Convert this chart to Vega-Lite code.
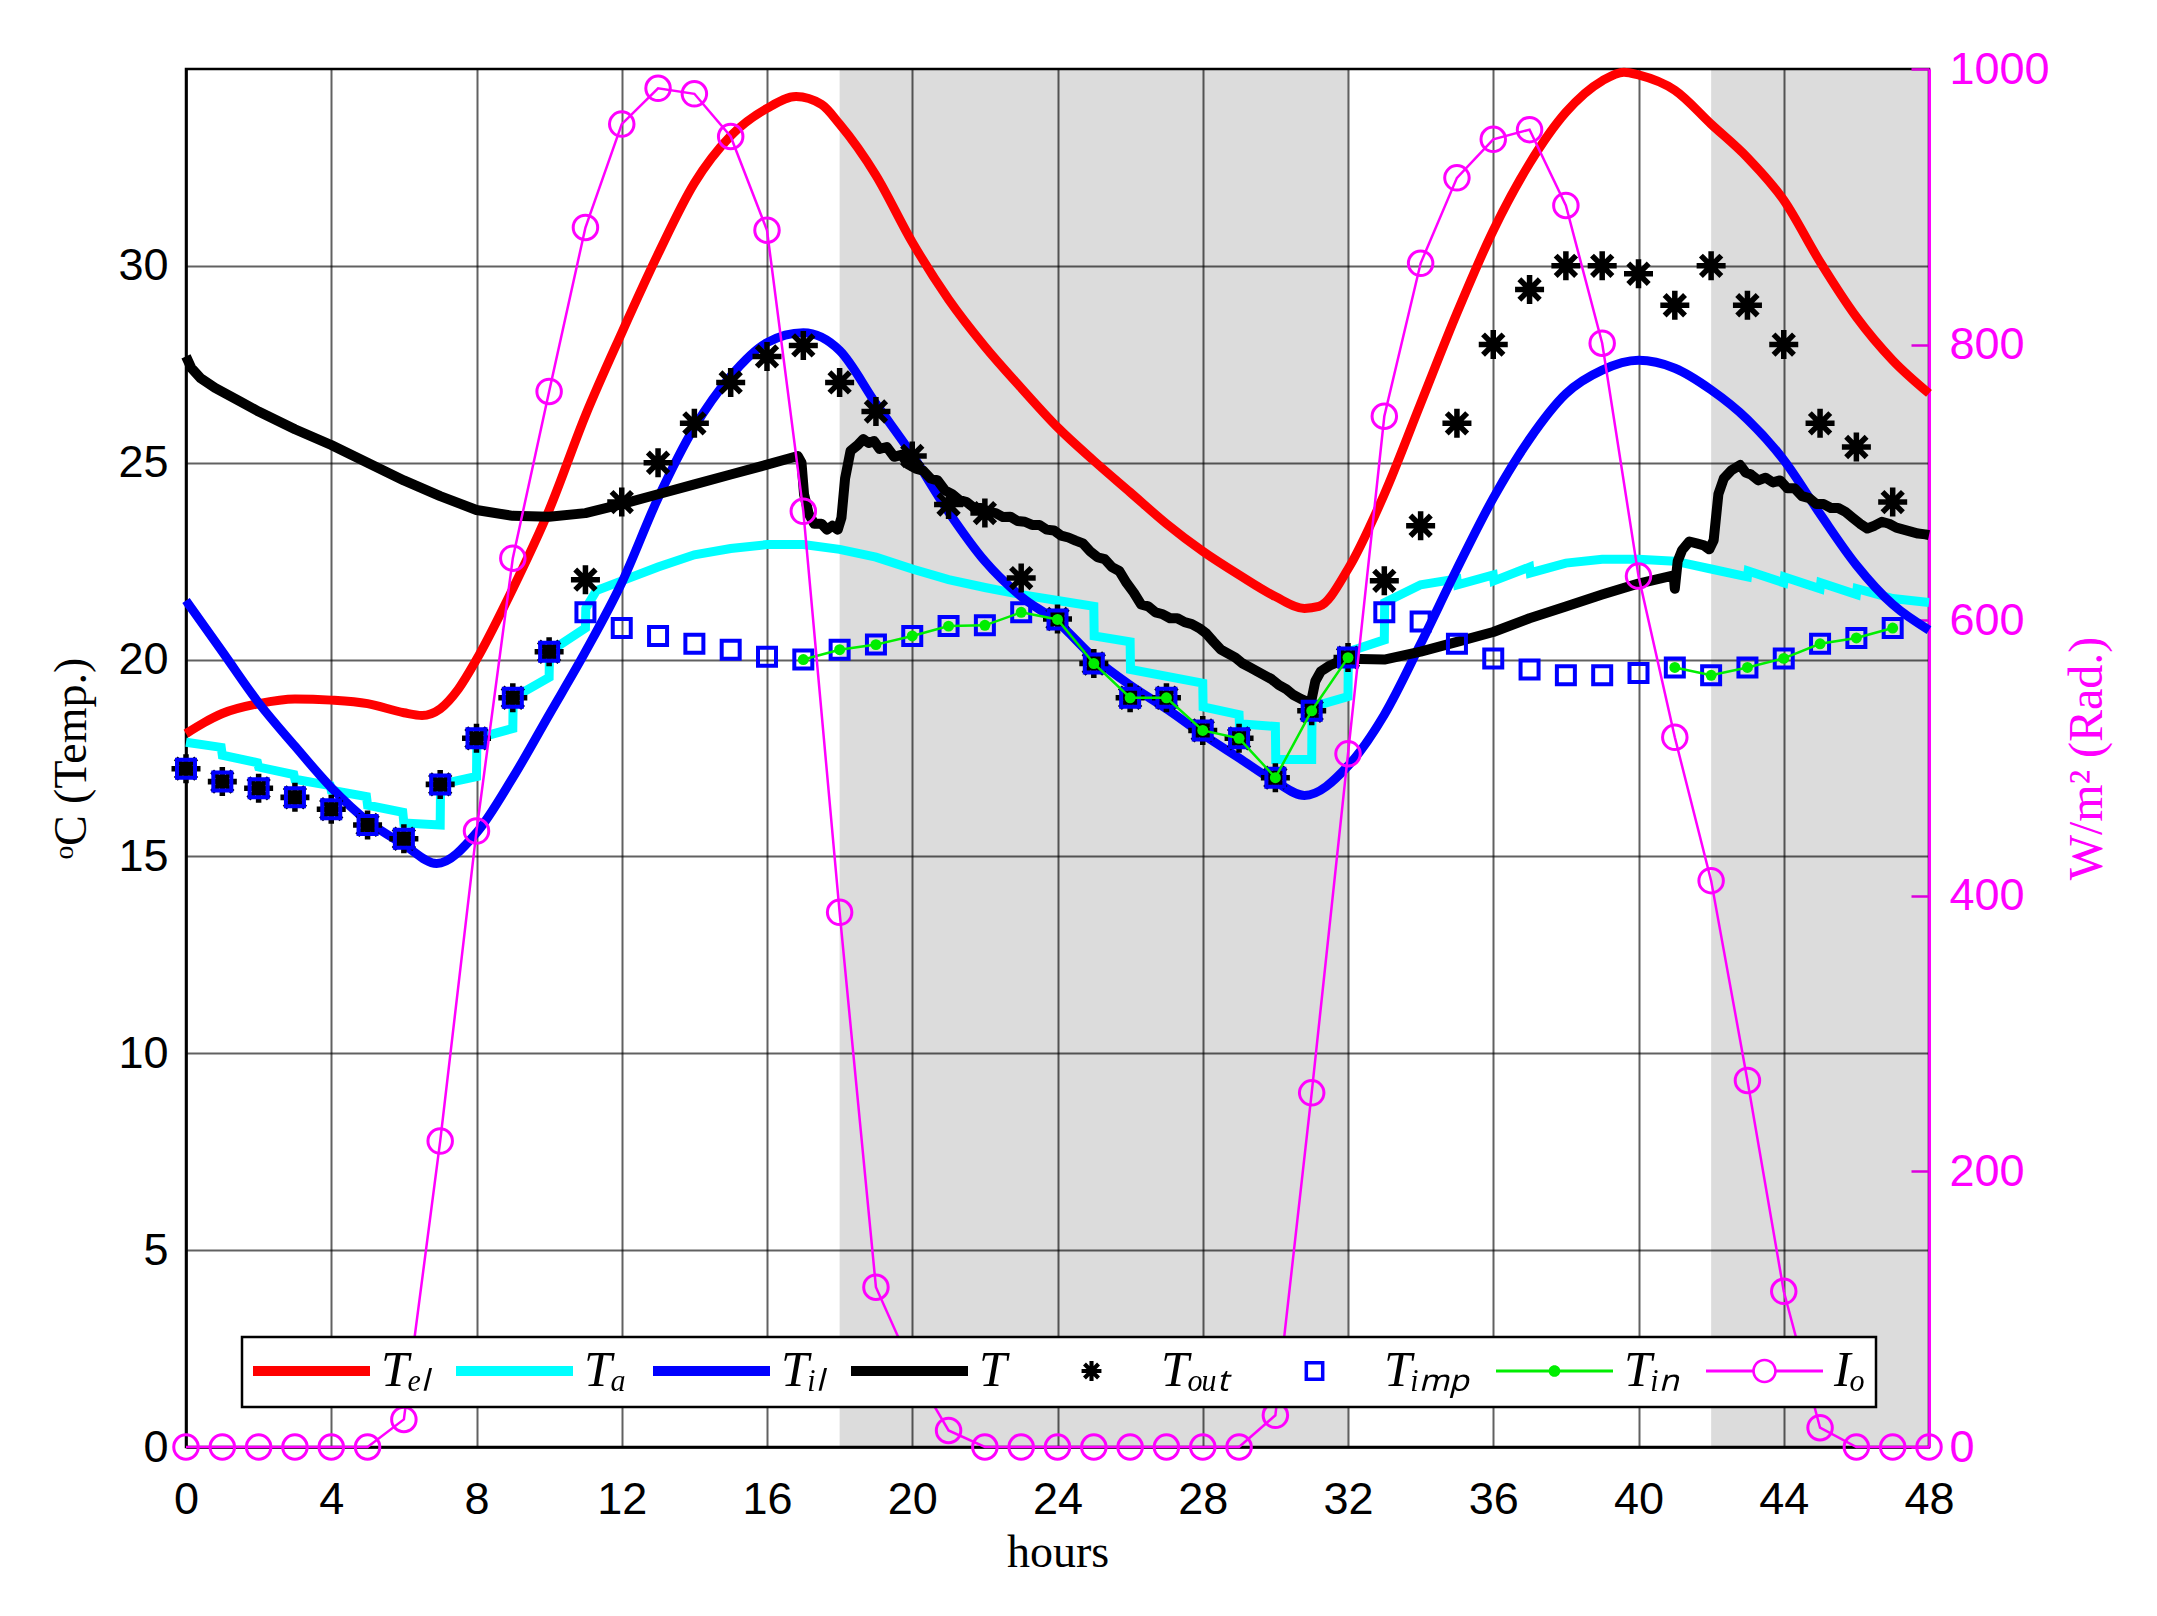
{
  "$schema": "https://vega.github.io/schema/vega-lite/v6.json",
  "width": 1743,
  "height": 1378,
  "autosize": {"type": "none"},
  "padding": {"left": 186, "top": 69, "right": 228, "bottom": 169},
  "background": "white",
  "datasets": {
    "shade": [{"h": 18, "h2": 32}, {"h": 42, "h2": 48}],
    "el": [
      {"h": 0, "v": 18.12}, {"h": 0.5, "v": 18.4}, {"h": 1, "v": 18.63}, {"h": 2, "v": 18.88}, {"h": 3, "v": 19.0},
      {"h": 4, "v": 18.97}, {"h": 5, "v": 18.88}, {"h": 6, "v": 18.65}, {"h": 6.5, "v": 18.58}, {"h": 7, "v": 18.75},
      {"h": 7.5, "v": 19.25}, {"h": 8, "v": 20.0}, {"h": 9, "v": 21.8}, {"h": 10, "v": 23.8}, {"h": 11, "v": 26.2},
      {"h": 12, "v": 28.3}, {"h": 13, "v": 30.3}, {"h": 14, "v": 32.1}, {"h": 15, "v": 33.3}, {"h": 16, "v": 34.0},
      {"h": 16.8, "v": 34.3}, {"h": 17.5, "v": 34.1}, {"h": 18, "v": 33.6}, {"h": 19, "v": 32.3}, {"h": 20, "v": 30.6},
      {"h": 21, "v": 29.15}, {"h": 22, "v": 27.95}, {"h": 23, "v": 26.9}, {"h": 24, "v": 25.9}, {"h": 25, "v": 25.05},
      {"h": 26, "v": 24.25}, {"h": 27, "v": 23.45}, {"h": 28, "v": 22.75}, {"h": 29, "v": 22.15}, {"h": 30, "v": 21.6},
      {"h": 30.8, "v": 21.3}, {"h": 31.2, "v": 21.35}, {"h": 32, "v": 22.3}, {"h": 33, "v": 24.2}, {"h": 34, "v": 26.5},
      {"h": 35, "v": 28.8}, {"h": 36, "v": 30.9}, {"h": 37, "v": 32.6}, {"h": 38, "v": 33.9}, {"h": 39, "v": 34.7},
      {"h": 39.6, "v": 34.92}, {"h": 40, "v": 34.85}, {"h": 41, "v": 34.46}, {"h": 42, "v": 33.6}, {"h": 43, "v": 32.75},
      {"h": 44, "v": 31.67}, {"h": 45, "v": 30.1}, {"h": 46, "v": 28.7}, {"h": 47, "v": 27.6}, {"h": 48, "v": 26.76}
    ],
    "ta": [
      {"h": 0, "v": 17.9}, {"h": 0.97, "v": 17.77}, {"h": 1, "v": 17.57}, {"h": 1.97, "v": 17.38}, {"h": 2, "v": 17.27},
      {"h": 2.97, "v": 17.08}, {"h": 3, "v": 16.96}, {"h": 3.97, "v": 16.8}, {"h": 4, "v": 16.68}, {"h": 4.97, "v": 16.52},
      {"h": 5, "v": 16.3}, {"h": 5.97, "v": 16.12}, {"h": 6, "v": 15.85}, {"h": 7, "v": 15.8}, {"h": 7.01, "v": 16.83},
      {"h": 8, "v": 17.03}, {"h": 8.01, "v": 18.0}, {"h": 9, "v": 18.25}, {"h": 9.01, "v": 19.03}, {"h": 10, "v": 19.55},
      {"h": 10.01, "v": 20.2}, {"h": 11, "v": 20.8}, {"h": 11.01, "v": 21.3}, {"h": 11.3, "v": 21.75}, {"h": 12, "v": 22.0},
      {"h": 13, "v": 22.35}, {"h": 14, "v": 22.66}, {"h": 15, "v": 22.82}, {"h": 16, "v": 22.92}, {"h": 17, "v": 22.92},
      {"h": 18, "v": 22.8}, {"h": 19, "v": 22.6}, {"h": 20, "v": 22.3}, {"h": 21, "v": 22.03}, {"h": 22, "v": 21.83},
      {"h": 23, "v": 21.65}, {"h": 24, "v": 21.5}, {"h": 25, "v": 21.35}, {"h": 25.01, "v": 20.6}, {"h": 26, "v": 20.45},
      {"h": 26.01, "v": 19.75}, {"h": 28, "v": 19.4}, {"h": 28.01, "v": 18.8}, {"h": 29, "v": 18.6}, {"h": 29.01, "v": 18.37},
      {"h": 30, "v": 18.3}, {"h": 30.01, "v": 17.46}, {"h": 31, "v": 17.46}, {"h": 31.01, "v": 18.8}, {"h": 32, "v": 19.06},
      {"h": 32.01, "v": 20.2}, {"h": 33, "v": 20.5}, {"h": 33.01, "v": 21.45}, {"h": 34, "v": 21.9}, {"h": 35, "v": 22.05},
      {"h": 35.02, "v": 21.9}, {"h": 36, "v": 22.15}, {"h": 36.02, "v": 22.0}, {"h": 37, "v": 22.35}, {"h": 37.02, "v": 22.2},
      {"h": 38, "v": 22.45}, {"h": 39, "v": 22.55}, {"h": 40, "v": 22.55}, {"h": 41, "v": 22.5}, {"h": 42, "v": 22.3},
      {"h": 43, "v": 22.1}, {"h": 43.02, "v": 22.25}, {"h": 44, "v": 21.95}, {"h": 44.02, "v": 22.1}, {"h": 45, "v": 21.8},
      {"h": 45.02, "v": 21.95}, {"h": 46, "v": 21.65}, {"h": 46.02, "v": 21.8}, {"h": 47, "v": 21.55}, {"h": 48, "v": 21.45}
    ],
    "til": [
      {"h": 0, "v": 21.5}, {"h": 1, "v": 20.2}, {"h": 2, "v": 18.9}, {"h": 3, "v": 17.8}, {"h": 4, "v": 16.75},
      {"h": 5, "v": 15.9}, {"h": 6, "v": 15.3}, {"h": 6.9, "v": 14.82}, {"h": 8, "v": 15.6}, {"h": 9, "v": 17.0},
      {"h": 10, "v": 18.6}, {"h": 11, "v": 20.2}, {"h": 12, "v": 21.95}, {"h": 13, "v": 24.1}, {"h": 14, "v": 25.9},
      {"h": 15, "v": 27.2}, {"h": 16, "v": 28.05}, {"h": 17, "v": 28.3}, {"h": 18, "v": 27.85}, {"h": 19, "v": 26.5},
      {"h": 20, "v": 25.2}, {"h": 21, "v": 23.75}, {"h": 22, "v": 22.5}, {"h": 23, "v": 21.6}, {"h": 24, "v": 20.95},
      {"h": 25, "v": 20.05}, {"h": 26, "v": 19.35}, {"h": 27, "v": 18.75}, {"h": 28, "v": 18.1}, {"h": 29, "v": 17.5},
      {"h": 30, "v": 16.9}, {"h": 30.8, "v": 16.55}, {"h": 32, "v": 17.3}, {"h": 33, "v": 18.6}, {"h": 34, "v": 20.4},
      {"h": 35, "v": 22.3}, {"h": 36, "v": 24.1}, {"h": 37, "v": 25.6}, {"h": 38, "v": 26.75}, {"h": 39, "v": 27.35},
      {"h": 40, "v": 27.6}, {"h": 41, "v": 27.4}, {"h": 42, "v": 26.85}, {"h": 43, "v": 26.1}, {"h": 44, "v": 25.07},
      {"h": 45, "v": 23.7}, {"h": 46, "v": 22.4}, {"h": 47, "v": 21.4}, {"h": 48, "v": 20.75}
    ],
    "t": [
      {"h": 0, "v": 27.7}, {"h": 0.15, "v": 27.4}, {"h": 0.4, "v": 27.15}, {"h": 0.8, "v": 26.9}, {"h": 1.5, "v": 26.55},
      {"h": 2, "v": 26.3}, {"h": 3, "v": 25.85}, {"h": 4, "v": 25.45}, {"h": 5, "v": 25.0}, {"h": 6, "v": 24.55},
      {"h": 7, "v": 24.15}, {"h": 8, "v": 23.8}, {"h": 9, "v": 23.65}, {"h": 10, "v": 23.63}, {"h": 11, "v": 23.72},
      {"h": 12, "v": 23.95}, {"h": 13, "v": 24.2}, {"h": 14, "v": 24.45}, {"h": 15, "v": 24.7}, {"h": 16, "v": 24.95},
      {"h": 16.85, "v": 25.17}, {"h": 16.95, "v": 25.0}, {"h": 17.02, "v": 24.2}, {"h": 17.15, "v": 23.7}, {"h": 17.3, "v": 23.45},
      {"h": 17.5, "v": 23.45}, {"h": 17.65, "v": 23.3}, {"h": 17.8, "v": 23.4}, {"h": 17.95, "v": 23.3}, {"h": 18.05, "v": 23.6},
      {"h": 18.15, "v": 24.6}, {"h": 18.3, "v": 25.3}, {"h": 18.5, "v": 25.45}, {"h": 18.65, "v": 25.6}, {"h": 18.8, "v": 25.5},
      {"h": 18.95, "v": 25.55}, {"h": 19.1, "v": 25.35}, {"h": 19.3, "v": 25.4}, {"h": 19.5, "v": 25.15}, {"h": 19.7, "v": 25.2},
      {"h": 19.9, "v": 24.95}, {"h": 20.1, "v": 24.85}, {"h": 20.3, "v": 24.8}, {"h": 20.5, "v": 24.6}, {"h": 20.7, "v": 24.55},
      {"h": 20.9, "v": 24.3}, {"h": 21.1, "v": 24.2}, {"h": 21.3, "v": 24.05}, {"h": 21.5, "v": 24.0}, {"h": 21.7, "v": 23.85},
      {"h": 21.9, "v": 23.85}, {"h": 22.1, "v": 23.75}, {"h": 22.3, "v": 23.72}, {"h": 22.5, "v": 23.62}, {"h": 22.7, "v": 23.63},
      {"h": 22.9, "v": 23.52}, {"h": 23.1, "v": 23.5}, {"h": 23.3, "v": 23.42}, {"h": 23.5, "v": 23.42}, {"h": 23.7, "v": 23.3},
      {"h": 23.9, "v": 23.28}, {"h": 24.1, "v": 23.15}, {"h": 24.3, "v": 23.1}, {"h": 24.5, "v": 23.02}, {"h": 24.7, "v": 22.95},
      {"h": 24.9, "v": 22.75}, {"h": 25.1, "v": 22.6}, {"h": 25.3, "v": 22.55}, {"h": 25.5, "v": 22.35}, {"h": 25.7, "v": 22.25},
      {"h": 25.9, "v": 21.95}, {"h": 26.1, "v": 21.7}, {"h": 26.3, "v": 21.4}, {"h": 26.5, "v": 21.35}, {"h": 26.7, "v": 21.2},
      {"h": 26.9, "v": 21.15}, {"h": 27.1, "v": 21.05}, {"h": 27.3, "v": 21.05}, {"h": 27.5, "v": 20.95}, {"h": 27.7, "v": 20.9},
      {"h": 27.9, "v": 20.8}, {"h": 28.1, "v": 20.66}, {"h": 28.3, "v": 20.45}, {"h": 28.5, "v": 20.25}, {"h": 28.7, "v": 20.15},
      {"h": 28.9, "v": 20.05}, {"h": 29.1, "v": 19.9}, {"h": 29.3, "v": 19.8}, {"h": 29.5, "v": 19.7}, {"h": 29.7, "v": 19.6},
      {"h": 29.9, "v": 19.5}, {"h": 30.1, "v": 19.35}, {"h": 30.3, "v": 19.25}, {"h": 30.5, "v": 19.1}, {"h": 30.7, "v": 19.0},
      {"h": 30.9, "v": 18.92}, {"h": 31.0, "v": 19.0}, {"h": 31.1, "v": 19.45}, {"h": 31.25, "v": 19.7}, {"h": 31.5, "v": 19.85},
      {"h": 31.75, "v": 19.95}, {"h": 32, "v": 20.02}, {"h": 33, "v": 20.0}, {"h": 34, "v": 20.2}, {"h": 35, "v": 20.45},
      {"h": 36, "v": 20.7}, {"h": 37, "v": 21.05}, {"h": 38, "v": 21.35}, {"h": 39, "v": 21.65}, {"h": 40, "v": 21.93},
      {"h": 40.97, "v": 22.14}, {"h": 41.0, "v": 21.8}, {"h": 41.08, "v": 22.5}, {"h": 41.2, "v": 22.78}, {"h": 41.4, "v": 23.0},
      {"h": 41.6, "v": 22.95}, {"h": 41.8, "v": 22.9}, {"h": 41.95, "v": 22.8}, {"h": 42.07, "v": 23.03}, {"h": 42.2, "v": 24.2},
      {"h": 42.35, "v": 24.6}, {"h": 42.55, "v": 24.8}, {"h": 42.8, "v": 24.94}, {"h": 42.95, "v": 24.75}, {"h": 43.1, "v": 24.7},
      {"h": 43.3, "v": 24.55}, {"h": 43.5, "v": 24.62}, {"h": 43.7, "v": 24.5}, {"h": 43.9, "v": 24.55}, {"h": 44.1, "v": 24.35},
      {"h": 44.3, "v": 24.35}, {"h": 44.5, "v": 24.15}, {"h": 44.7, "v": 24.1}, {"h": 44.9, "v": 23.95}, {"h": 45.1, "v": 23.95},
      {"h": 45.3, "v": 23.85}, {"h": 45.5, "v": 23.85}, {"h": 45.7, "v": 23.75}, {"h": 45.9, "v": 23.6}, {"h": 46.1, "v": 23.45},
      {"h": 46.3, "v": 23.33}, {"h": 46.5, "v": 23.4}, {"h": 46.7, "v": 23.5}, {"h": 46.9, "v": 23.45}, {"h": 47.1, "v": 23.35},
      {"h": 47.3, "v": 23.3}, {"h": 47.5, "v": 23.25}, {"h": 47.7, "v": 23.2}, {"h": 47.9, "v": 23.18}, {"h": 48, "v": 23.16}
    ],
    "tout": [
      {"h": 0, "v": 17.23}, {"h": 1, "v": 16.9}, {"h": 2, "v": 16.73}, {"h": 3, "v": 16.5}, {"h": 4, "v": 16.2},
      {"h": 5, "v": 15.8}, {"h": 6, "v": 15.45}, {"h": 7, "v": 16.83}, {"h": 8, "v": 18.0}, {"h": 9, "v": 19.03},
      {"h": 10, "v": 20.2}, {"h": 11, "v": 22.03}, {"h": 12, "v": 24.0}, {"h": 13, "v": 25.0}, {"h": 14, "v": 26.0},
      {"h": 15, "v": 27.04}, {"h": 16, "v": 27.7}, {"h": 17, "v": 27.98}, {"h": 18, "v": 27.04}, {"h": 19, "v": 26.3},
      {"h": 20, "v": 25.17}, {"h": 21, "v": 23.94}, {"h": 22, "v": 23.72}, {"h": 23, "v": 22.07}, {"h": 24, "v": 21.03},
      {"h": 25, "v": 19.9}, {"h": 26, "v": 19.03}, {"h": 27, "v": 19.03}, {"h": 28, "v": 18.2}, {"h": 29, "v": 18.0},
      {"h": 30, "v": 17.0}, {"h": 31, "v": 18.7}, {"h": 32, "v": 20.05}, {"h": 33, "v": 22.0}, {"h": 34, "v": 23.4},
      {"h": 35, "v": 26.0}, {"h": 36, "v": 28.0}, {"h": 37, "v": 29.4}, {"h": 38, "v": 30.0}, {"h": 39, "v": 30.0},
      {"h": 40, "v": 29.8}, {"h": 41, "v": 29.0}, {"h": 42, "v": 30.0}, {"h": 43, "v": 29.0}, {"h": 44, "v": 28.0},
      {"h": 45, "v": 26.0}, {"h": 46, "v": 25.4}, {"h": 47, "v": 24.0}
    ],
    "timp": [
      {"h": 0, "v": 17.23}, {"h": 1, "v": 16.9}, {"h": 2, "v": 16.73}, {"h": 3, "v": 16.5}, {"h": 4, "v": 16.2},
      {"h": 5, "v": 15.8}, {"h": 6, "v": 15.45}, {"h": 7, "v": 16.83}, {"h": 8, "v": 18.0}, {"h": 9, "v": 19.03},
      {"h": 10, "v": 20.2}, {"h": 11, "v": 21.2}, {"h": 12, "v": 20.8}, {"h": 13, "v": 20.6}, {"h": 14, "v": 20.4},
      {"h": 15, "v": 20.25}, {"h": 16, "v": 20.07}, {"h": 17, "v": 20.0}, {"h": 18, "v": 20.25}, {"h": 19, "v": 20.38},
      {"h": 20, "v": 20.6}, {"h": 21, "v": 20.85}, {"h": 22, "v": 20.87}, {"h": 23, "v": 21.2}, {"h": 24, "v": 21.02},
      {"h": 25, "v": 19.9}, {"h": 26, "v": 19.03}, {"h": 27, "v": 19.03}, {"h": 28, "v": 18.2}, {"h": 29, "v": 18.0},
      {"h": 30, "v": 17.0}, {"h": 31, "v": 18.7}, {"h": 32, "v": 20.05}, {"h": 33, "v": 21.2}, {"h": 34, "v": 20.97},
      {"h": 35, "v": 20.4}, {"h": 36, "v": 20.03}, {"h": 37, "v": 19.75}, {"h": 38, "v": 19.6}, {"h": 39, "v": 19.6},
      {"h": 40, "v": 19.66}, {"h": 41, "v": 19.8}, {"h": 42, "v": 19.6}, {"h": 43, "v": 19.8}, {"h": 44, "v": 20.03},
      {"h": 45, "v": 20.4}, {"h": 46, "v": 20.55}, {"h": 47, "v": 20.8}
    ],
    "tin": [
      {"h": 17, "v": 20.0, "seg": 1}, {"h": 18, "v": 20.25, "seg": 1}, {"h": 19, "v": 20.38, "seg": 1}, {"h": 20, "v": 20.6, "seg": 1},
      {"h": 21, "v": 20.85, "seg": 1}, {"h": 22, "v": 20.87, "seg": 1}, {"h": 23, "v": 21.2, "seg": 1}, {"h": 24, "v": 21.02, "seg": 1},
      {"h": 25, "v": 19.9, "seg": 1}, {"h": 26, "v": 19.03, "seg": 1}, {"h": 27, "v": 19.03, "seg": 1}, {"h": 28, "v": 18.2, "seg": 1},
      {"h": 29, "v": 18.0, "seg": 1}, {"h": 30, "v": 17.0, "seg": 1}, {"h": 31, "v": 18.7, "seg": 1}, {"h": 32, "v": 20.05, "seg": 1},
      {"h": 41, "v": 19.8, "seg": 2}, {"h": 42, "v": 19.6, "seg": 2}, {"h": 43, "v": 19.8, "seg": 2}, {"h": 44, "v": 20.03, "seg": 2},
      {"h": 45, "v": 20.4, "seg": 2}, {"h": 46, "v": 20.55, "seg": 2}, {"h": 47, "v": 20.8, "seg": 2}
    ],
    "io": [
      {"h": 0, "v": 0}, {"h": 1, "v": 0}, {"h": 2, "v": 0}, {"h": 3, "v": 0}, {"h": 4, "v": 0}, {"h": 5, "v": 0},
      {"h": 6, "v": 20}, {"h": 7, "v": 222}, {"h": 8, "v": 447}, {"h": 9, "v": 645}, {"h": 10, "v": 766}, {"h": 11, "v": 885},
      {"h": 12, "v": 960}, {"h": 13, "v": 986}, {"h": 14, "v": 982}, {"h": 15, "v": 951}, {"h": 16, "v": 883}, {"h": 17, "v": 679},
      {"h": 18, "v": 388}, {"h": 19, "v": 116}, {"h": 20, "v": 57}, {"h": 21, "v": 12}, {"h": 22, "v": 0}, {"h": 23, "v": 0},
      {"h": 24, "v": 0}, {"h": 25, "v": 0}, {"h": 26, "v": 0}, {"h": 27, "v": 0}, {"h": 28, "v": 0}, {"h": 29, "v": 0},
      {"h": 30, "v": 23}, {"h": 31, "v": 257}, {"h": 32, "v": 503}, {"h": 33, "v": 748}, {"h": 34, "v": 859}, {"h": 35, "v": 921},
      {"h": 36, "v": 949}, {"h": 37, "v": 956}, {"h": 38, "v": 901}, {"h": 39, "v": 801}, {"h": 40, "v": 632}, {"h": 41, "v": 515},
      {"h": 42, "v": 411}, {"h": 43, "v": 266}, {"h": 44, "v": 113}, {"h": 45, "v": 14}, {"h": 46, "v": 0}, {"h": 47, "v": 0},
      {"h": 48, "v": 0}
    ]
  },
  "layer": [
    {
      "data": {"name": "shade"},
      "mark": {"type": "rect", "color": "black", "opacity": 0.137},
      "encoding": {
        "x": {
          "field": "h", "type": "quantitative", "title": "hours",
          "scale": {"domain": [0, 48], "nice": false},
          "axis": {"values": [0, 4, 8, 12, 16, 20, 24, 28, 32, 36, 40, 44, 48], "grid": true, "labelPadding": 30, "titlePadding": 8}
        },
        "x2": {"field": "h2"}
      }
    },
    {
      "encoding": {
        "x": {
          "field": "h", "type": "quantitative", "title": "hours",
          "scale": {"domain": [0, 48], "nice": false},
          "axis": {"values": [0, 4, 8, 12, 16, 20, 24, 28, 32, 36, 40, 44, 48], "grid": true, "labelPadding": 30, "titlePadding": 8}
        },
        "y": {
          "field": "v", "type": "quantitative", "title": "ᵒC (Temp.)",
          "scale": {"domain": [0, 35], "nice": false},
          "axis": {"values": [0, 5, 10, 15, 20, 25, 30], "grid": true, "labelPadding": 18, "titlePadding": 22}
        }
      },
      "layer": [
        {"data": {"name": "el"}, "mark": {"type": "line", "color": "#ff0000", "strokeWidth": 9, "interpolate": "monotone"}},
        {"data": {"name": "ta"}, "mark": {"type": "line", "color": "#00ffff", "strokeWidth": 9}},
        {"data": {"name": "til"}, "mark": {"type": "line", "color": "#0000ff", "strokeWidth": 9, "interpolate": "monotone"}},
        {"data": {"name": "t"}, "mark": {"type": "line", "color": "#000000", "strokeWidth": 10, "strokeJoin": "round"}},
        {
          "data": {"name": "tout"},
          "mark": {
            "type": "point", "filled": true, "color": "#000000", "opacity": 1, "size": 841,
            "shape": "M-1,-0.19H1V0.19H-1Z M-0.19,-1H0.19V1H-0.19Z M0.84,0.57L0.57,0.84L-0.84,-0.57L-0.57,-0.84Z M0.57,-0.84L0.84,-0.57L-0.57,0.84L-0.84,0.57Z"
          }
        },
        {"data": {"name": "timp"}, "mark": {"type": "point", "shape": "square", "filled": false, "color": "#0000ff", "strokeWidth": 4, "size": 324, "opacity": 1}},
        {
          "data": {"name": "tin"},
          "mark": {"type": "line", "color": "#00ee00", "strokeWidth": 2.5, "point": {"filled": true, "size": 120, "color": "#00ee00", "opacity": 1}},
          "encoding": {"detail": {"field": "seg", "type": "nominal"}}
        }
      ]
    },
    {
      "data": {"name": "io"},
      "mark": {"type": "line", "color": "#ff00ff", "strokeWidth": 2.5, "point": {"filled": false, "size": 600, "strokeWidth": 3, "color": "#ff00ff", "opacity": 1}},
      "encoding": {
        "x": {
          "field": "h", "type": "quantitative", "title": "hours",
          "scale": {"domain": [0, 48], "nice": false},
          "axis": {"values": [0, 4, 8, 12, 16, 20, 24, 28, 32, 36, 40, 44, 48], "grid": true, "labelPadding": 30, "titlePadding": 8}
        },
        "y": {
          "field": "v", "type": "quantitative", "title": "W/m² (Rad.)",
          "scale": {"domain": [0, 1000], "nice": false},
          "axis": {
            "orient": "right", "values": [0, 200, 400, 600, 800, 1000], "grid": false, "format": "d",
            "domainColor": "#ff00ff", "domainWidth": 3, "ticks": true, "tickSize": -18, "tickColor": "#ff00ff", "tickWidth": 2.5,
            "labelColor": "#ff00ff", "labelPadding": 38, "titleColor": "#ff00ff", "titleAngle": 270, "titlePadding": 62,
            "titleFontSize": 48
          }
        }
      }
    },
    {
      "data": {"values": []},
      "mark": {"type": "point", "filled": true, "opacity": 1},
      "encoding": {
        "color": {
          "field": "series", "type": "nominal",
          "scale": {
            "domain": ["Tₑₗ", "Tₐ", "Tᵢₗ", "T", "Tₒᵤₜ", "Tᵢₘₚ", "Tᵢₙ", "Iₒ"],
            "range": ["#ff0000", "#00ffff", "#0000ff", "#000000", "#000000", "#0000ff", "#00ee00", "#ff00ff"]
          },
          "legend": {
            "title": null, "orient": "none", "legendX": 56, "legendY": 1268, "direction": "horizontal",
            "symbolSize": 13689, "symbolStrokeWidth": 0, "symbolOpacity": 1, "clipHeight": 46,
            "labelFont": "Liberation Serif", "labelFontStyle": "italic", "labelFontSize": 50, "labelOffset": 11,
            "columnPadding": 26, "padding": 11, "strokeColor": "black", "fillColor": "white", "labelLimit": 0
          }
        },
        "shape": {
          "field": "series", "type": "nominal",
          "scale": {
            "domain": ["Tₑₗ", "Tₐ", "Tᵢₗ", "T", "Tₒᵤₜ", "Tᵢₘₚ", "Tᵢₙ", "Iₒ"],
            "range": [
              "M-1,-0.085H1V0.085H-1Z",
              "M-1,-0.085H1V0.085H-1Z",
              "M-1,-0.085H1V0.085H-1Z",
              "M-1,-0.085H1V0.085H-1Z",
              "M-0.17,-0.035H0.17V0.035H-0.17Z M-0.035,-0.17H0.035V0.17H-0.035Z M0.145,0.095L0.095,0.145L-0.145,-0.095L-0.095,-0.145Z M0.095,-0.145L0.145,-0.095L-0.095,0.145L-0.145,0.095Z",
              "M-0.17,-0.17H0.17V0.17H-0.17Z M-0.11,-0.11V0.11H0.11V-0.11Z",
              "M-1,-0.026H1V0.026H-1Z M0.1,0A0.1,0.1 0 1,1 -0.1,0A0.1,0.1 0 1,1 0.1,0Z",
              "M-1,-0.026H-0.2V0.026H-1Z M0.2,-0.026H1V0.026H0.2Z M0.21,0A0.21,0.21 0 1,1 -0.21,0A0.21,0.21 0 1,1 0.21,0Z M0.165,0A0.165,0.165 0 1,0 -0.165,0A0.165,0.165 0 1,0 0.165,0Z"
            ]
          }
        }
      }
    }
  ],
  "resolve": {"scale": {"y": "independent"}, "axis": {"y": "independent"}},
  "config": {
    "view": {"stroke": "#000000", "strokeWidth": 2.5},
    "axis": {
      "labelFont": "Liberation Sans", "labelFontSize": 45, "labelColor": "#000000",
      "titleFont": "Liberation Serif", "titleFontSize": 46, "titleFontWeight": "normal", "titleColor": "#000000",
      "domainColor": "#000000", "domainWidth": 2.5, "gridColor": "#000000", "gridOpacity": 0.62, "gridWidth": 2,
      "ticks": false, "labelFlush": false, "labelOverlap": false
    },
    "legend": {"strokeWidth": 2.5}
  }
}
